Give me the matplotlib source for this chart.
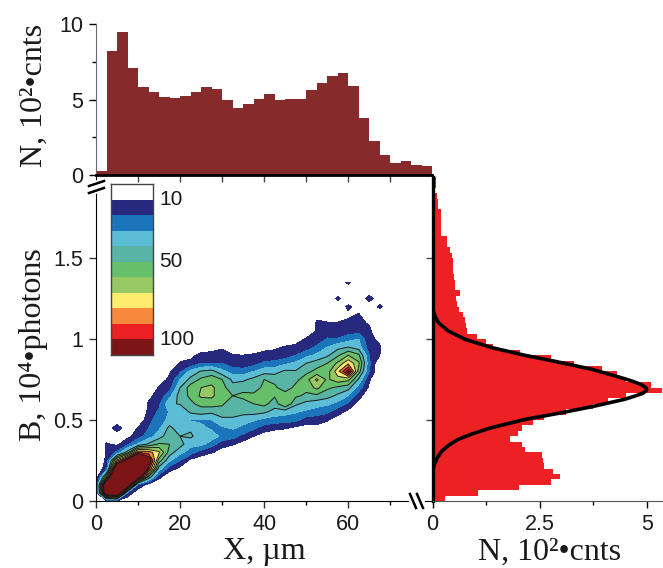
import numpy as np
import matplotlib
matplotlib.use("Agg")
import matplotlib.pyplot as plt
from matplotlib.colors import ListedColormap, BoundaryNorm
from matplotlib.lines import Line2D

W, H = 663, 568
plt.rcParams['font.family'] = ['Liberation Sans', 'DejaVu Sans']

# Top histogram (X, um) : bin width 2.5, counts in 10^2
x_bin_width = 2.5
x_counts = [0.25, 8.2, 9.5, 7.06, 5.8, 5.5, 5.15, 5.1, 5.2, 5.5, 5.8, 5.7, 4.97, 4.45, 4.68, 5.05,
            5.35, 4.97, 5.05, 5.03, 5.63, 6.07, 6.58, 6.78, 5.9, 3.8, 2.25, 1.3, 0.82, 0.95, 0.68, 0.62]

# Right histogram (B) : bin width 1/30, counts in 10^2, from bottom to top
b_bin_width = 1 / 30
b_counts = [0.29, 1.07, 2.02, 2.76, 2.98, 2.81, 2.6, 2.58, 2.56, 2.16, 2.08, 1.81, 2.0, 2.08, 2.35,
            2.6, 3.1, 3.75, 4.1, 4.5, 5.35, 5.1, 4.5, 4.3, 3.95, 3.3, 2.75, 2.05, 1.4, 1.25,
            1.03, 0.8, 0.78, 0.76, 0.7, 0.62, 0.58, 0.55, 0.65, 0.53, 0.53, 0.5, 0.47, 0.48, 0.47,
            0.45, 0.4, 0.33, 0.33, 0.2, 0.2, 0.2, 0.2, 0.2, 0.13, 0.12, 0.1, 0.05, 0.07, 0.08, 0.16]

# Fit curve on the right histogram
fit_b = [.185, .20, .237, .27, .309, .345, .381, .415, .453, .504, .541, .582, .628, .65, .665, .678, .689,
         .70, .720, .74, .761, .813, .858, .899, .947, .998, 1.049, 1.10, 1.14, 1.173, 1.235]
fit_n = [0, .015, .06, .12, .22, .38, .60, .93, 1.38, 2.16, 2.93, 3.71, 4.48, 4.74, 4.90, 4.97, 4.99,
         4.97, 4.85, 4.65, 4.40, 3.71, 2.93, 2.16, 1.38, .76, .37, .14, .06, .02, 0]

# Density map: one list per X column (step 2.5), values at B = 0, 0.05, 0.10 ...
grid_dx = 2.5
grid_dy = 0.05
z_columns = [
    [0],
    [5, 130, 140, 60, 16, 12, 11, 11, 5],
    [8, 140, 170, 170, 130, 75, 22, 8, 0, 18],
    [0, 20, 130, 170, 170, 110, 45, 18, 7],
    [0, 0, 20, 120, 170, 170, 90, 32, 15, 11],
    [0, 0, 5, 50, 95, 115, 85, 42, 25, 20, 17, 12, 11, 8],
    [0, 0, 0, 14, 35, 55, 72, 52, 35, 28, 25, 22, 18, 13, 11, 5],
    [0, 0, 0, 0, 15, 32, 45, 50, 47, 43, 33, 31, 38, 27, 15, 12, 9],
    [0, 0, 0, 0, 7, 20, 33, 44, 40, 33, 34, 30, 41, 45, 40, 30, 18, 11, 5],
    [0, 0, 0, 0, 0, 7, 25, 33, 42, 38, 29, 42, 48, 52, 55, 43, 33, 12, 8],
    [0, 0, 0, 0, 0, 3, 15, 33, 34, 33, 28, 45, 53, 62, 60, 52, 41, 20, 12, 5],
    [0, 0, 0, 0, 0, 0, 11, 24, 36, 28, 30, 42, 55, 62, 62, 56, 44, 20, 14, 5],
    [0, 0, 0, 0, 0, 0, 5, 14, 27, 28, 38, 44, 52, 54, 54, 50, 33, 20, 13, 9],
    [0, 0, 0, 0, 0, 0, 0, 11, 24, 31, 38, 44, 42, 50, 43, 38, 25, 15, 10.5, 5],
    [0, 0, 0, 0, 0, 0, 0, 5, 17, 28, 33, 44, 47, 52, 47, 38, 25, 12, 10, 4],
    [0, 0, 0, 0, 0, 0, 0, 0, 10, 22, 31, 44, 50, 52, 46, 43, 30, 16, 11, 5],
    [0, 0, 0, 0, 0, 0, 0, 0, 5, 15, 27, 42, 53, 60, 52, 50, 36, 22, 12, 8],
    [0, 0, 0, 0, 0, 0, 0, 0, 0, 13, 25, 36, 45, 51, 52, 47, 36, 24, 12, 9],
    [0, 0, 0, 0, 0, 0, 0, 0, 0, 11, 24, 34, 60, 56, 44, 46, 42, 28, 14, 10.5, 6],
    [0, 0, 0, 0, 0, 0, 0, 0, 0, 7, 23, 31, 42, 52, 53, 47, 41, 32, 20, 11, 8],
    [0, 0, 0, 0, 0, 0, 0, 0, 0, 6, 15, 28, 37, 48, 53, 56, 47, 40, 27, 14, 10.5, 5],
    [0, 0, 0, 0, 0, 0, 0, 0, 0, 7, 14, 25, 34, 48, 63, 72, 53, 45, 32, 22, 13, 10.4, 11, 8],
    [0, 0, 0, 0, 0, 0, 0, 0, 0, 5, 11, 22, 32, 44, 52, 58, 55, 50, 38, 30, 21, 13, 10.5, 4],
    [0, 0, 0, 0, 0, 0, 0, 0, 0, 0, 5, 14, 27, 38, 48, 66, 76, 62, 48, 37, 21, 12, 10.5, 5, 0, 13],
    [0, 0, 0, 0, 0, 0, 0, 0, 0, 0, 0, 7, 18, 30, 44, 63, 105, 78, 60, 40, 26, 15, 13, 7, 13, 0, 0, 13],
    [0, 0, 0, 0, 0, 0, 0, 0, 0, 0, 0, 0, 6, 15, 25, 38, 55, 62, 52, 35, 30, 15, 12, 11, 4],
    [0, 0, 0, 0, 0, 0, 0, 0, 0, 0, 0, 0, 0, 0, 8, 11, 20, 22, 20, 14, 12, 12, 9, 0, 0, 16],
    [0, 0, 0, 0, 0, 0, 0, 0, 0, 0, 0, 0, 0, 0, 0, 0, 0, 0, 10, 11, 8, 0, 0, 0, 13],
    [0],
]
levels = [10, 20, 30, 40, 50, 60, 70, 80, 90, 100, 200]
band_colors = ['#27297f', '#1b75bb', '#5bbcd6', '#58b5a5', '#66bf6a', '#96c963',
               '#fdec6d', '#f6893c', '#ed2024', '#7d1416']
cbar_labels = {10: '10', 50: '50', 100: '100'}

n_rows = max(len(c) for c in z_columns)
Z = np.zeros((n_rows, len(z_columns)))
for j, col in enumerate(z_columns):
    Z[:len(col), j] = col
gx = np.arange(len(z_columns)) * grid_dx
gy = np.arange(n_rows) * grid_dy


def box(l, r, t, b):
    return [l / W, 1 - b / H, (r - l) / W, (b - t) / H]


fig = plt.figure(figsize=(W / 100, H / 100), dpi=100, facecolor='white')
ax = fig.add_axes(box(96, 431.5, 177, 501))
top = fig.add_axes(box(96, 431.5, 24, 175))
right = fig.add_axes(box(432.5, 663, 177, 501))

# main contour
ax.contourf(gx, gy, Z, levels=levels, colors=band_colors)
ax.contour(gx, gy, Z, levels=levels[3:10], colors='#1a1a1a', linewidths=0.7)
ax.set_xlim(0, 79.8)
ax.set_ylim(0, 2.0)
ax.set_xticks([0, 20, 40, 60])
ax.set_xticks([10, 30, 50, 70], minor=True)
ax.set_yticks([0, 0.5, 1, 1.5])
ax.set_yticklabels(['0', '0.5', '1', '1.5'])
ax.spines['top'].set_visible(False)
ax.spines['right'].set_visible(False)

# top histogram
x_edges = np.arange(len(x_counts)) * x_bin_width
top.bar(x_edges, x_counts, width=x_bin_width, align='edge', color='#862a2c', linewidth=0)
top.set_xlim(0, 79.8)
top.set_ylim(0, 10)
top.set_yticks([0, 5, 10])
top.set_yticklabels(['0', '5', '10'])
top.set_yticks([2.5, 7.5], minor=True)
top.set_xticks([10, 20, 30, 40, 50, 60, 70])
top.tick_params(axis='x', direction='out', labelbottom=False, length=5, color='#444444')
top.spines['top'].set_visible(False)
top.spines['right'].set_visible(False)
top.spines['bottom'].set_linewidth(2)
top.spines['bottom'].set_color('black')
top.spines['left'].set_color('#666666')

# right histogram
b_edges = np.arange(len(b_counts)) * b_bin_width
right.barh(b_edges, b_counts, height=b_bin_width, align='edge', color='#ed2024', linewidth=0)
right.plot(fit_n, fit_b, color='black', lw=2.6, solid_capstyle='round', solid_joinstyle='round')
right.set_xlim(0, 5.37)
right.set_ylim(0, 2.0)
right.set_xticks([0, 2.5, 5])
right.set_xticklabels(['0', '2.5', '5'])
right.set_xticks([1.25, 3.75], minor=True)
right.set_yticks([0.5, 1, 1.5])
right.tick_params(axis='y', labelleft=False, direction='out', length=5, color='#444444')
right.spines['top'].set_visible(False)
right.spines['right'].set_visible(False)
right.spines['left'].set_linewidth(2.4)
right.spines['left'].set_color('black')
right.spines['bottom'].set_color('#555555')

for a in (ax, top, right):
    a.tick_params(which='major', labelsize=15.5, length=5, width=1, pad=4, labelcolor='#1a1a1a')
    a.tick_params(which='minor', length=3, width=1)
    a.patch.set_alpha(0)
ax.tick_params(axis='both', color='#333333')

# colour key
cax = fig.add_axes(box(111, 153, 184, 355))
key_colors = ['white'] + band_colors
cax.pcolormesh([0, 1], np.arange(len(key_colors) + 1), np.arange(len(key_colors))[:, None],
               cmap=ListedColormap(key_colors),
               norm=BoundaryNorm(np.arange(len(key_colors) + 1) - 0.5, len(key_colors)))
cax.invert_yaxis()
cax.set_xticks([])
cax.set_yticks([])
for s in cax.spines.values():
    s.set_linewidth(1)
    s.set_color('#444444')
band_px = (355 - 184) / 11
for i, lev in enumerate(levels[:-1]):
    if lev in cbar_labels:
        yp = 184 + band_px * (i + 1)
        fig.text(159 / W, 1 - yp / H, cbar_labels[lev], fontsize=15, color='#1a1a1a',
                 ha='left', va='center', family='Liberation Sans')

# axis titles
serif = ['Liberation Serif', 'DejaVu Serif']
fs = 23
fig.text(34 / W, 1 - 95 / H, 'N, 10²•cnts', rotation=90, fontsize=fs, family=serif, ha='center', va='center', color='#1a1a1a')
fig.text(34 / W, 1 - 345 / H, 'B, 10⁴•photons', rotation=90, fontsize=fs, family=serif, ha='center', va='center', color='#1a1a1a')
fig.text(264 / W, 1 - 552 / H, 'X, µm', fontsize=fs, family=serif, ha='center', va='center', color='#1a1a1a')
fig.text(550 / W, 1 - 552 / H, 'N, 10²•cnts', fontsize=fs, family=serif, ha='center', va='center', color='#1a1a1a')


# axis break marks
def slash(x0, y0, x1, y1, color='black', lw=1.8):
    fig.add_artist(Line2D([x0 / W, x1 / W], [1 - y0 / H, 1 - y1 / H], color=color, lw=lw, zorder=20))


slash(96, 183, 96, 191, color='white', lw=4)
slash(89, 186, 104, 181)
slash(89, 193, 104, 188)
slash(412, 501, 422, 501, color='white', lw=4)
slash(410, 494, 416, 508)
slash(417, 494, 423, 508)

fig.savefig('out.png', dpi=100)
